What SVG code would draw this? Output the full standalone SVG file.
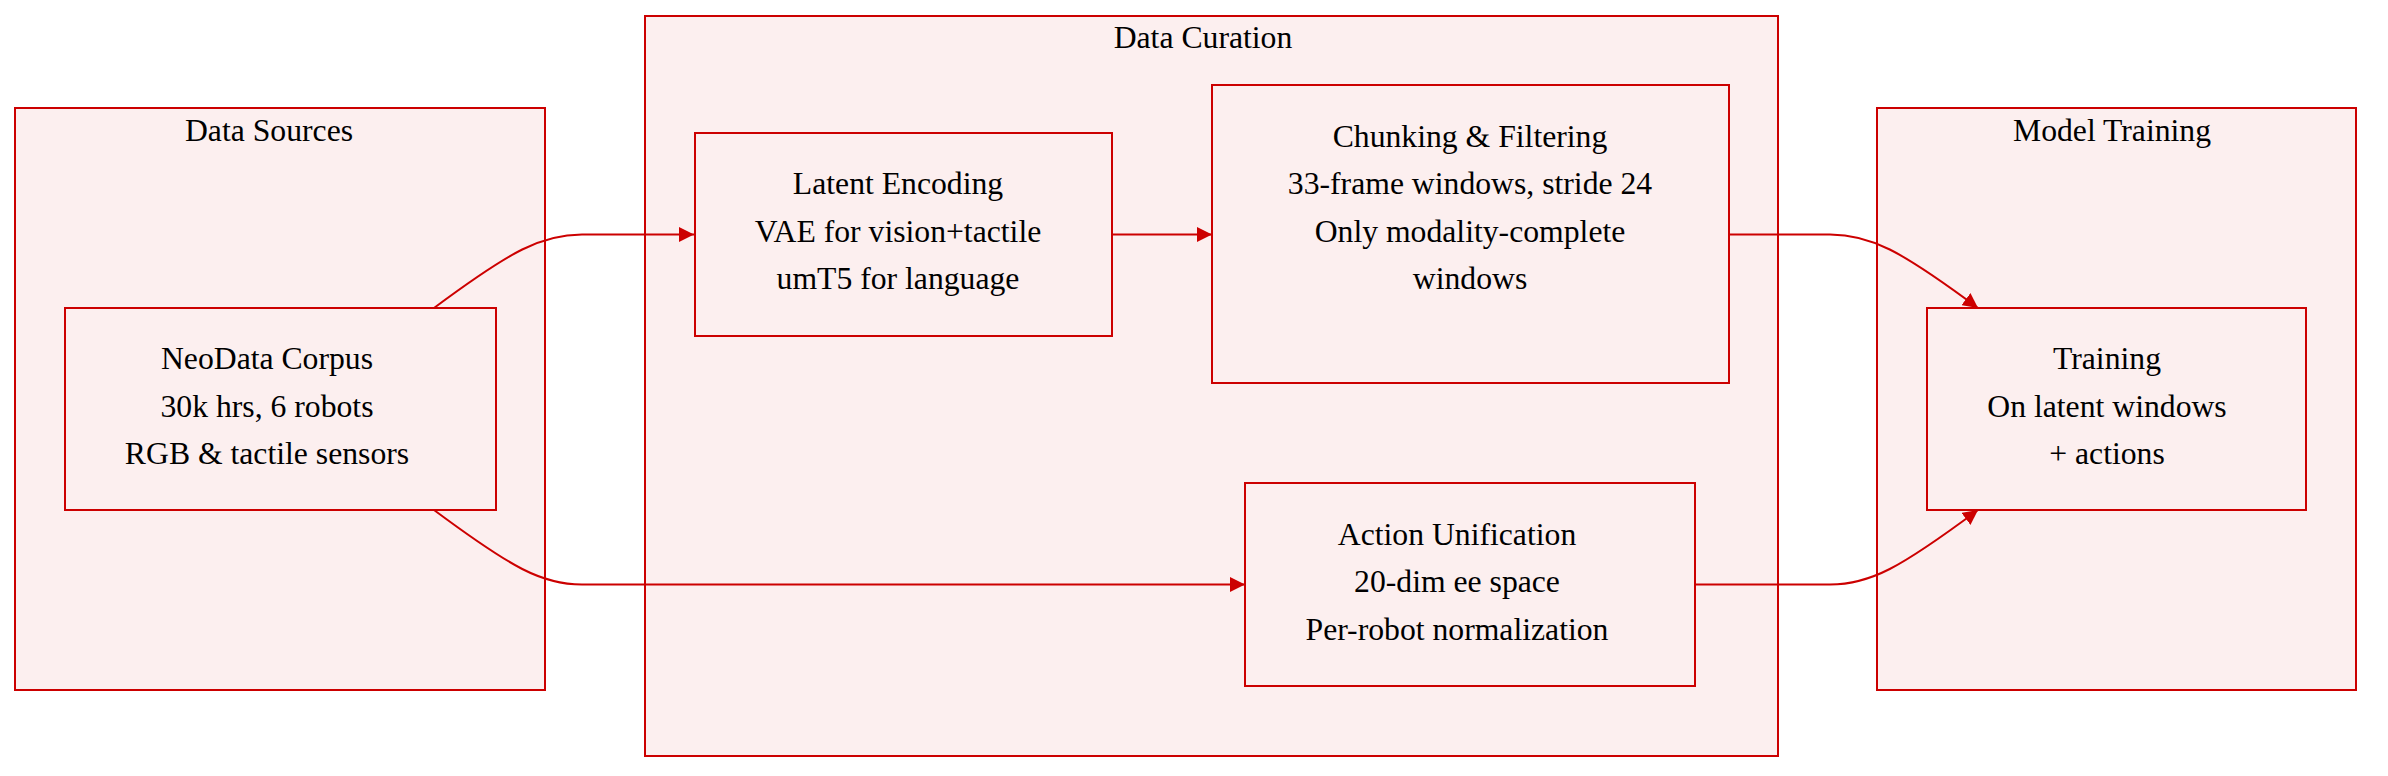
<svg xmlns="http://www.w3.org/2000/svg" width="2388" height="776" viewBox="0 0 2388 776">
<style>
.cluster{fill:#fcefef;stroke:#cc0000;stroke-width:2}
.node{fill:#fcefef;stroke:#cc0000;stroke-width:2}
.edge{fill:none;stroke:#cc0000;stroke-width:2}
text{font-family:"Liberation Serif","Times New Roman",serif;font-size:31.7px;fill:#000;text-anchor:middle}
</style>
<defs>
<marker id="arrow" viewBox="0 0 15 15" markerWidth="15" markerHeight="15" refX="15" refY="7.5" orient="auto" markerUnits="userSpaceOnUse">
<path d="M0,0 L15,7.5 L0,15 z" fill="#cc0000"/>
</marker>
</defs>
<rect width="2388" height="776" fill="#ffffff"/>
<g id="cluster-data-sources">
<rect class="cluster" x="15" y="108" width="530" height="582"/>
<text x="269" y="140.5">Data Sources</text>
</g>
<g id="cluster-data-curation">
<rect class="cluster" x="645" y="16" width="1133" height="740"/>
<text x="1203" y="48">Data Curation</text>
</g>
<g id="cluster-model-training">
<rect class="cluster" x="1877" y="108" width="479" height="582"/>
<text x="2112" y="140.5">Model Training</text>
</g>
<g id="connectors">
<path class="edge" d="M434,308 C512,250 542,234.5 582,234.5 L694,234.5" marker-end="url(#arrow)"/>
<path class="edge" d="M1112,234.5 L1212,234.5" marker-end="url(#arrow)"/>
<path class="edge" d="M1729,234.5 L1830,234.5 C1870,234.5 1900,250 1978,308" marker-end="url(#arrow)"/>
<path class="edge" d="M434,510 C512,568 542,584.5 582,584.5 L1245,584.5" marker-end="url(#arrow)"/>
<path class="edge" d="M1695,584.5 L1830,584.5 C1870,584.5 1900,568 1978,510" marker-end="url(#arrow)"/>
</g>
<g id="node-neodata">
<rect class="node" x="65" y="308" width="431" height="202"/>
<text x="267" y="369">NeoData Corpus</text>
<text x="267" y="416.5">30k hrs, 6 robots</text>
<text x="267" y="464">RGB &amp; tactile sensors</text>
</g>
<g id="node-latent">
<rect class="node" x="695" y="133" width="417" height="203"/>
<text x="898" y="194">Latent Encoding</text>
<text x="898" y="241.5">VAE for vision+tactile</text>
<text x="898" y="289">umT5 for language</text>
</g>
<g id="node-chunking">
<rect class="node" x="1212" y="85" width="517" height="298"/>
<text x="1470" y="146.5">Chunking &amp; Filtering</text>
<text x="1470" y="194">33-frame windows, stride 24</text>
<text x="1470" y="241.5">Only modality-complete</text>
<text x="1470" y="289">windows</text>
</g>
<g id="node-action">
<rect class="node" x="1245" y="483" width="450" height="203"/>
<text x="1457" y="544.5">Action Unification</text>
<text x="1457" y="592">20-dim ee space</text>
<text x="1457" y="639.5">Per-robot normalization</text>
</g>
<g id="node-training">
<rect class="node" x="1927" y="308" width="379" height="202"/>
<text x="2107" y="369">Training</text>
<text x="2107" y="416.5">On latent windows</text>
<text x="2107" y="464">+ actions</text>
</g>
</svg>
